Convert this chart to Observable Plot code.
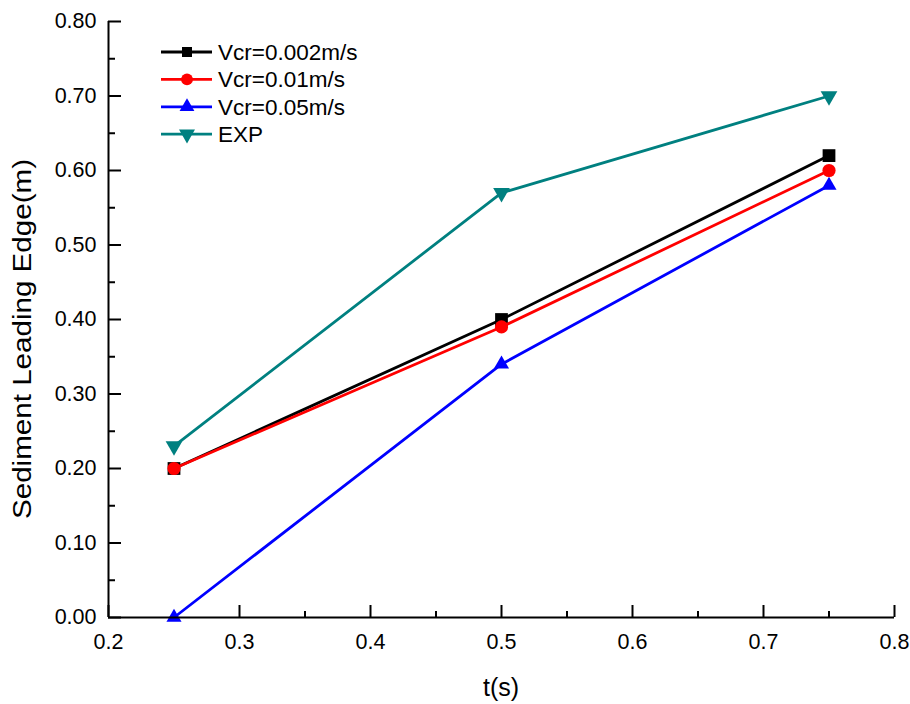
<!DOCTYPE html>
<html>
<head>
<meta charset="utf-8">
<script src="https://cdn.jsdelivr.net/npm/d3@7"></script>
<script src="https://cdn.jsdelivr.net/npm/@observablehq/plot@0.6"></script>
<style>
  html, body { margin: 0; padding: 0; background: #fff; }
  #chart svg { display: block; overflow: visible; }
</style>
</head>
<body>
<div id="chart"></div>
<script>
// ---- data ----
const times = [0.25, 0.5, 0.75];
const seriesNames = ["Vcr=0.002m/s", "Vcr=0.01m/s", "Vcr=0.05m/s", "EXP"];
const vcr0002 = [0.20, 0.40, 0.62];
const vcr001 = [0.20, 0.39, 0.60];
const vcr005 = [0.00, 0.34, 0.58];
const expData = [0.23, 0.57, 0.70];
const xTicks = [0.2, 0.3, 0.4, 0.5, 0.6, 0.7, 0.8];
const xMinorTicks = [0.25, 0.35, 0.45, 0.55, 0.65, 0.75];
const yTicks = [0, 0.1, 0.2, 0.3, 0.4, 0.5, 0.6, 0.7, 0.8];
const yMinorTicks = [0.05, 0.15, 0.25, 0.35, 0.45, 0.55, 0.65, 0.75];
const xLabel = "t(s)";
const yLabel = "Sediment Leading Edge(m)";

const colors = ["#000000", "#ff0000", "#0000ff", "#008080"];
const triangleDown = {
  draw(context, size) {
    const y = -Math.sqrt(size / (Math.sqrt(3) * 3));
    context.moveTo(0, -y * 2);
    context.lineTo(-Math.sqrt(3) * y, y);
    context.lineTo(Math.sqrt(3) * y, y);
    context.closePath();
  }
};
const symbols = ["square", "circle", "triangle", triangleDown];
const radii = [7.2, 6.6, 5.6, 6.2];
const legendSymbolSizes = [100, 110, 95, 110];

const allSeries = [vcr0002, vcr001, vcr005, expData];
const tables = allSeries.map(vals => times.map((t, i) => ({t, v: vals[i]})));

const seriesMarks = [];
tables.forEach((tbl, k) => {
  seriesMarks.push(Plot.line(tbl, {x: "t", y: "v", stroke: colors[k], strokeWidth: 2.8}));
  seriesMarks.push(Plot.dot(tbl, {x: "t", y: "v", fill: colors[k], stroke: "none", symbol: () => symbols[k], r: radii[k]}));
});

const chart = Plot.plot({
  width: 910,
  height: 704,
  marginLeft: 108,
  marginRight: 16,
  marginTop: 21,
  marginBottom: 87,
  x: {domain: [0.2, 0.8]},
  y: {domain: [0, 0.8]},
  style: {fontFamily: "'Liberation Sans', Arial, sans-serif", fontSize: "21.5px", background: "#fff", color: "#000"},
  marks: [
    Plot.axisX(xTicks, {tickSize: 0, tickPadding: 16, tickFormat: d3.format(".1f"), label: null, fontSize: 21.5}),
    Plot.axisX(xTicks, {tickSize: 12, dy: -12, fill: "none", label: null, strokeWidth: 2}),
    Plot.axisX(xMinorTicks, {tickSize: 6, dy: -6, fill: "none", label: null, strokeWidth: 2}),
    Plot.axisY(yTicks, {tickSize: 0, tickPadding: 12, tickFormat: d3.format(".2f"), label: null, fontSize: 21.5}),
    Plot.axisY(yTicks, {tickSize: 13, dx: 13, fill: "none", label: null, strokeWidth: 2}),
    Plot.axisY(yMinorTicks, {tickSize: 7, dx: 7, fill: "none", label: null, strokeWidth: 2}),
    ...seriesMarks,
    Plot.ruleY([0], {stroke: "#000", strokeWidth: 2}),
    Plot.ruleX([0.2], {stroke: "#000", strokeWidth: 2})
  ]
});

document.getElementById("chart").appendChild(chart);

// ---- titles & legend ----
const svg = d3.select(chart);
const font = "'Liberation Sans', Arial, sans-serif";
svg.append("text")
  .attr("x", 501).attr("y", 696)
  .attr("text-anchor", "middle")
  .attr("font-family", font).attr("font-size", 25)
  .attr("fill", "#000")
  .text(xLabel);
svg.append("text")
  .attr("transform", "translate(31,339) rotate(-90)")
  .attr("text-anchor", "middle")
  .attr("font-family", font).attr("font-size", 26)
  .attr("textLength", 360).attr("lengthAdjust", "spacingAndGlyphs")
  .attr("fill", "#000")
  .text(yLabel);

const legend = svg.append("g").attr("text-anchor", "start");
seriesNames.forEach((name, i) => {
  const y = 52 + 27.4 * i;
  legend.append("line")
    .attr("x1", 161).attr("x2", 212).attr("y1", y).attr("y2", y)
    .attr("stroke", colors[i]).attr("stroke-width", 2.8);
  const sym = symbols[i] === "square" ? d3.symbolSquare
    : symbols[i] === "circle" ? d3.symbolCircle
    : symbols[i] === "triangle" ? d3.symbolTriangle : triangleDown;
  legend.append("path")
    .attr("d", d3.symbol(sym, legendSymbolSizes[i])())
    .attr("transform", `translate(187,${y})`)
    .attr("fill", colors[i]);
  legend.append("text")
    .attr("x", 218).attr("y", y + 8)
    .attr("text-anchor", "start")
    .attr("font-family", font).attr("font-size", 22.5)
    .attr("fill", "#000")
    .text(name);
});
</script>
</body>
</html>
